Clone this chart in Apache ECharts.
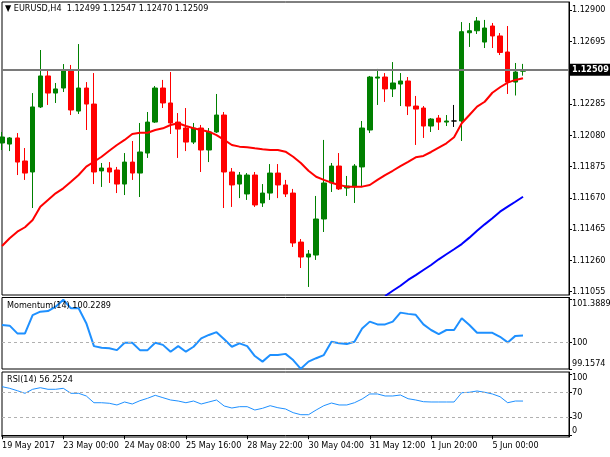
<!DOCTYPE html>
<html><head><meta charset="utf-8">
<script src="https://cdn.jsdelivr.net/npm/echarts@6/dist/echarts.min.js"></script>
<style>html,body{margin:0;padding:0;background:#fff}#c{width:610px;height:457px}</style>
</head><body><div id="c"></div>
<script>
// ---- data (EURUSD H4) ----
const opens  = [1.12029,1.12022,1.12062,1.11911,1.11839,1.12265,1.12468,1.12356,1.12389,1.12507,1.12238,1.12389,1.12284,1.11846,1.11865,1.11852,1.11760,1.11904,1.11832,1.11963,1.12166,1.12389,1.12291,1.12166,1.12127,1.12035,1.12127,1.11983,1.12101,1.12212,1.11839,1.11760,1.11695,1.11819,1.11636,1.11701,1.11832,1.11754,1.11701,1.11380,1.11282,1.11295,1.11531,1.11767,1.11878,1.11734,1.11741,1.11872,1.12114,1.12454,1.12461,1.12383,1.12415,1.12435,1.12271,1.12258,1.12140,1.12192,1.12166,1.12173,1.12173,1.12751,1.12764,1.12690,1.12795,1.12730,1.12625,1.12428,1.12499];
const highs  = [1.12101,1.12068,1.12094,1.11996,1.12356,1.12638,1.12507,1.12422,1.12546,1.12540,1.12677,1.12428,1.12487,1.11898,1.11904,1.11872,1.11963,1.12042,1.12160,1.12232,1.12402,1.12442,1.12494,1.12225,1.12258,1.12160,1.12147,1.12127,1.12350,1.12232,1.11865,1.11839,1.11832,1.11839,1.11760,1.11891,1.11891,1.11787,1.11728,1.11400,1.11328,1.11682,1.12049,1.11898,1.11963,1.11813,1.11891,1.12173,1.12468,1.12514,1.12487,1.12559,1.12487,1.12461,1.12337,1.12271,1.12192,1.12212,1.12212,1.12278,1.12821,1.12815,1.12854,1.12835,1.12815,1.12749,1.12795,1.12553,1.12547];
const lows   = [1.11983,1.11976,1.11819,1.11787,1.11603,1.12258,1.12278,1.12291,1.12363,1.12212,1.12219,1.12114,1.11760,1.11741,1.11767,1.11701,1.11688,1.11787,1.11675,1.11931,1.12160,1.12258,1.12088,1.11931,1.11976,1.12022,1.11839,1.11904,1.12094,1.11603,1.11610,1.11668,1.11656,1.11610,1.11610,1.11656,1.11668,1.11675,1.11348,1.11210,1.11086,1.11263,1.11446,1.11708,1.11721,1.11682,1.11636,1.11741,1.12094,1.12278,1.12298,1.12330,1.12271,1.12212,1.12016,1.12062,1.12101,1.12114,1.12140,1.12134,1.12042,1.12658,1.12743,1.12651,1.12651,1.12605,1.12350,1.12340,1.12470];
const closes = [1.12068,1.12062,1.11904,1.11832,1.12265,1.12468,1.12356,1.12383,1.12507,1.12245,1.12389,1.12284,1.11839,1.11865,1.11839,1.11760,1.11904,1.11832,1.11970,1.12166,1.12389,1.12291,1.12160,1.12120,1.12035,1.12127,1.11983,1.12101,1.12212,1.11839,1.11754,1.11819,1.11819,1.11623,1.11701,1.11832,1.11754,1.11695,1.11374,1.11282,1.11302,1.11531,1.11767,1.11878,1.11728,1.11747,1.11878,1.12127,1.12461,1.12461,1.12383,1.12422,1.12435,1.12271,1.12251,1.12140,1.12186,1.12166,1.12173,1.12173,1.12758,1.12764,1.12828,1.12782,1.12730,1.12622,1.12428,1.12494,1.12509];
const maRed  = [1.11354,1.11405,1.11448,1.11477,1.11525,1.11612,1.11656,1.11699,1.11732,1.11775,1.11819,1.11874,1.11906,1.11939,1.11978,1.12016,1.12049,1.12088,1.12096,1.12096,1.12114,1.12125,1.12147,1.12158,1.12140,1.12125,1.12114,1.12103,1.12081,1.12049,1.12016,1.12005,1.12001,1.11994,1.11988,1.11983,1.11983,1.11972,1.11939,1.11898,1.11847,1.11808,1.11787,1.11769,1.11754,1.11743,1.11743,1.11743,1.11754,1.11787,1.11819,1.11847,1.11878,1.11906,1.11935,1.11944,1.11970,1.11999,1.12027,1.12066,1.12158,1.12212,1.12267,1.12299,1.12358,1.12394,1.12424,1.12442,1.12453];
const maBlue = [null,null,null,null,null,null,null,null,null,null,null,null,null,null,null,null,null,null,null,null,null,null,null,null,null,null,null,null,null,null,null,null,null,null,null,null,null,null,null,null,null,null,null,null,null,null,null,null,null,null,1.11027,1.11061,1.11094,1.11132,1.11164,1.11197,1.11230,1.11267,1.11300,1.11333,1.11367,1.11409,1.11454,1.11496,1.11536,1.11579,1.11612,1.11644,1.11677];
const momentum = [100.57,100.55,100.30,100.30,100.89,101.00,101.02,101.16,101.3889,101.11,101.11,100.63,99.89,99.84,99.82,99.76,100.00,100.00,99.76,99.76,100.00,99.93,99.71,99.89,99.71,99.87,100.14,100.25,100.34,100.11,99.87,99.98,99.89,99.57,99.39,99.60,99.60,99.64,99.44,99.1574,99.39,99.50,99.60,100.03,99.98,99.96,100.03,100.46,100.68,100.59,100.59,100.68,100.97,100.93,100.90,100.59,100.41,100.28,100.41,100.41,100.79,100.57,100.32,100.32,100.32,100.19,100.01,100.22,100.2289];
const rsi = [79.9,77.2,73.3,69.0,75.6,78.2,75.6,75.6,77.2,69.0,69.0,64.6,53.5,53.5,52.6,49.8,54.7,51.4,56.8,60.8,65.7,61.8,58.0,56.3,53.5,56.3,51.4,54.7,58.0,48.1,44.8,47.0,47.0,41.5,44.3,48.6,45.3,43.2,37.1,33.8,33.8,41.5,48.6,53.0,49.8,49.8,53.5,59.6,67.9,67.9,64.6,64.6,66.2,60.1,58.0,55.2,54.7,54.7,54.7,54.7,70.0,70.7,72.8,70.7,67.9,63.4,53.5,56.3,56.2524];
const slotCount = 75; // bar slots on the time axis (data + empty right margin)
const tickIndex  = [0,8,16,24,32,40,48,56,64];
const tickLabels = ['19 May 2017','23 May 00:00','24 May 08:00','25 May 16:00','28 May 22:00','30 May 04:00','31 May 12:00','1 Jun 20:00','5 Jun 00:00'];
const priceTicks = [1.11055,1.11260,1.11465,1.11670,1.11875,1.12080,1.12285,1.12490,1.12695,1.12900];
const momTicks = [99.1574,100,101.3889];
const rsiTicks = [0,30,70,100];
const lastPrice = 1.12509;
const titleMain = '\u25BC EURUSD,H4  1.12499 1.12547 1.12470 1.12509';
const titleMom = 'Momentum(14) 100.2289';
const titleRsi = 'RSI(14) 56.2524';

// ---- chart ----
const FONT = '"DejaVu Sans Condensed","Liberation Sans Narrow","DejaVu Sans",sans-serif';
const FS = 9;
const categories = Array.from({length: slotCount}, (_, i) => String(i));
const candles = opens.map((o, i) => [o, closes[i], lows[i], highs[i]]);
const tickSet = new Set(tickIndex);

const chart = echarts.init(document.getElementById('c'), null, {renderer: 'canvas'});
const gridBase = {left: 2, width: 567, show: true, borderColor: '#000', borderWidth: 1, backgroundColor: '#fff', containLabel: false, outerBoundsMode: 'none'};
const hiddenX = (g) => ({type: 'category', gridIndex: g, data: categories, boundaryGap: false,
  axisLine: {show: false}, axisTick: {show: false}, axisLabel: {show: false}, splitLine: {show: false}});
function near(a, b) { return Math.abs(a - b) < 1e-6; }

chart.setOption({
  animation: false,
  backgroundColor: '#fff',
  textStyle: {fontFamily: FONT},
  title: [
    {text: titleMain, left: 5, top: 4, padding: 0, textStyle: {fontFamily: FONT, fontSize: FS, fontWeight: 'normal', color: '#000'}},
    {text: titleMom, left: 7, top: 301, padding: 0, textStyle: {fontFamily: FONT, fontSize: FS, fontWeight: 'normal', color: '#000'}},
    {text: titleRsi, left: 7, top: 375, padding: 0, textStyle: {fontFamily: FONT, fontSize: FS, fontWeight: 'normal', color: '#000'}}
  ],
  grid: [
    Object.assign({}, gridBase, {top: 2, height: 293}),
    Object.assign({}, gridBase, {top: 297.5, height: 71.5}),
    Object.assign({}, gridBase, {top: 372, height: 65})
  ],
  xAxis: [
    hiddenX(0), hiddenX(1),
    {type: 'category', gridIndex: 2, data: categories, boundaryGap: false,
      axisLine: {show: true, lineStyle: {color: '#000'}},
      axisTick: {show: true, length: 4, interval: (i) => tickSet.has(i), lineStyle: {color: '#000'}},
      axisLabel: {show: true, interval: (i) => tickSet.has(i), align: 'left', margin: 4,
        fontFamily: FONT, fontSize: FS, color: '#000',
        formatter: (v) => { const k = tickIndex.indexOf(Number(v)); return k >= 0 ? tickLabels[k] : ''; }},
      splitLine: {show: false}}
  ],
  yAxis: [
    {type: 'value', gridIndex: 0, position: 'right', min: 1.110333, max: 1.129524, scale: true,
      axisLine: {show: true, lineStyle: {color: '#000'}},
      axisTick: {show: true, length: 3, customValues: priceTicks, lineStyle: {color: '#000'}},
      axisLabel: {show: true, customValues: priceTicks, margin: 3, fontFamily: FONT, fontSize: FS, color: '#000',
        formatter: (v) => v.toFixed(5)},
      splitLine: {show: false}},
    {type: 'value', gridIndex: 1, position: 'right', min: 99.152, max: 101.458, scale: true,
      axisLine: {show: true, lineStyle: {color: '#000'}},
      axisTick: {show: true, length: 3, customValues: momTicks, lineStyle: {color: '#000'}},
      axisLabel: {show: true, customValues: momTicks, margin: 3, fontFamily: FONT, fontSize: FS, color: '#000',
        formatter: (v) => near(v, 101.3889) ? '{t|101.3889}' : near(v, 99.1574) ? '{b|99.1574}' : '100',
        rich: {t: {padding: [9, 0, 0, 0], fontFamily: FONT, fontSize: FS, color: '#000'},
               b: {padding: [0, 0, 11, 0], fontFamily: FONT, fontSize: FS, color: '#000'}}},
      splitLine: {show: false}},
    {type: 'value', gridIndex: 2, position: 'right', min: -2.92, max: 104.07, scale: true,
      axisLine: {show: true, lineStyle: {color: '#000'}},
      axisTick: {show: true, length: 3, customValues: rsiTicks, lineStyle: {color: '#000'}},
      axisLabel: {show: true, customValues: rsiTicks, margin: 3, fontFamily: FONT, fontSize: FS, color: '#000',
        formatter: (v) => near(v, 100) ? '{t|100}' : near(v, 0) ? '{b|0}' : String(Math.round(v)),
        rich: {t: {padding: [7, 0, 0, 0], fontFamily: FONT, fontSize: FS, color: '#000'},
               b: {padding: [0, 0, 9, 0], fontFamily: FONT, fontSize: FS, color: '#000'}}},
      splitLine: {show: false}}
  ],
  series: [
    {type: 'candlestick', xAxisIndex: 0, yAxisIndex: 0, data: candles, barWidth: 5, z: 2,
      itemStyle: {color: '#008000', color0: '#ff0000', borderColor: '#008000', borderColor0: '#ff0000', borderColorDoji: '#000', borderWidth: 1}},
    {type: 'line', xAxisIndex: 0, yAxisIndex: 0, data: maRed, showSymbol: false, z: 3,
      lineStyle: {color: '#ff0000', width: 2},
      markLine: {silent: true, symbol: ['none', 'none'], precision: 5,
        lineStyle: {color: '#7a7a7a', width: 2, type: 'solid'},
        label: {show: true, position: 'end', distance: 1, formatter: () => lastPrice.toFixed(5),
          backgroundColor: '#000', color: '#fff', fontFamily: FONT, fontSize: FS, fontWeight: 'bold', padding: [2, 2, 1, 2]},
        data: [{yAxis: lastPrice}]}},
    {type: 'line', xAxisIndex: 0, yAxisIndex: 0, data: maBlue, showSymbol: false, z: 3, connectNulls: false,
      lineStyle: {color: '#0000ff', width: 2}},
    {type: 'line', xAxisIndex: 1, yAxisIndex: 1, data: momentum, showSymbol: false, z: 3,
      lineStyle: {color: '#1e90ff', width: 2},
      markLine: {silent: true, symbol: ['none', 'none'], label: {show: false},
        lineStyle: {color: '#b0b0b0', width: 1, type: [3, 3]}, data: [{yAxis: 100}]}},
    {type: 'line', xAxisIndex: 2, yAxisIndex: 2, data: rsi, showSymbol: false, z: 3,
      lineStyle: {color: '#1e90ff', width: 1},
      markLine: {silent: true, symbol: ['none', 'none'], label: {show: false},
        lineStyle: {color: '#b0b0b0', width: 1, type: [3, 3]}, data: [{yAxis: 70}, {yAxis: 30}]}}
  ]
});
</script></body></html>
